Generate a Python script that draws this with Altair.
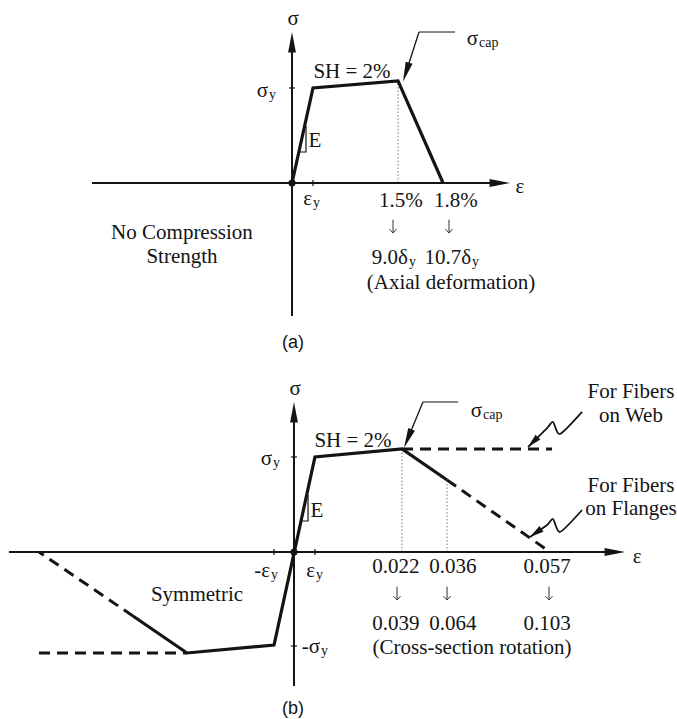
import math
import altair as alt
import pandas as pd

# ----------------------------------------------------------------------------
# Schematic units: strain axis in "schematic" units (cap strain = 1.0),
# stress axis in units of sigma_y.
# ----------------------------------------------------------------------------
W = 677
HA, HB = 360, 359

# ---------------- panel (a) ----------------
A_XDOM = [-2.755, 3.632]
A_YDOM = [-1.863, 1.926]
A_CURVE_X = [0.0, 0.198, 1.0, 1.425]
A_CURVE_Y = [0.0, 1.0, 1.074, 0.0]
A_EPS_AXIS = [-1.887, 2.057]
A_SIG_AXIS = [-1.40, 1.589]
A_TICK_EPS = [0.198]
A_TICK_SIG = [1.0]
A_DOT_X = [1.0]
A_DOT_TOP = [1.074]
A_CAP_LEADER_X = [1.538, 1.198, 1.047]
A_CAP_LEADER_Y = [1.589, 1.589, 1.065]
A_EMARK_X = [0.065, 0.132, 0.132]
A_EMARK_Y = [0.326, 0.326, 0.60]
A_DOWN_X = [0.953, 1.481]
A_DOWN_Y = [-0.526, -0.526]
A_TEXT = ["σ", "ε", "SH = 2%", "E", "1.5%", "1.8%", "(Axial deformation)",
          "No Compression", "Strength"]
A_TEXT_X = [0.01, 2.151, 0.566, 0.217, 1.028, 1.547, 1.50, -1.038, -1.038]
A_TEXT_Y = [1.663, -0.105, 1.105, 0.379, -0.253, -0.253, -1.116, -0.589, -0.842]
A_MAIN = ["σ", "σ", "ε", "9.0δ", "10.7δ"]
A_MAIN_X = [-0.226, 1.755, 0.189, 1.094, 1.689]
A_MAIN_Y = [0.905, 1.453, -0.232, -0.853, -0.853]
A_SUB = ["y", "cap", "y", "y", "y"]
A_SUB_X = [-0.217, 1.764, 0.198, 1.104, 1.698]
A_SUB_Y = [0.884, 1.432, -0.253, -0.874, -0.874]
A_PANEL = ["(a)"]
A_PANEL_X = [0.01]
A_PANEL_Y = [-1.737]

# ---------------- panel (b) ----------------
B_XDOM = [-2.722, 3.546]
B_YDOM = [-1.758, 2.021]
B_SOLID_X = [-1.491, -0.991, -0.185, 0.194, 1.0, 1.417]
B_SOLID_Y = [-0.674, -1.063, -0.98, 1.0, 1.084, 0.758]
B_WEB_X = [1.0, 2.389]
B_WEB_Y = [1.084, 1.084]
B_FLANGE_X = [1.417, 2.37]
B_FLANGE_Y = [0.758, 0.0]
B_COMPH_X = [-2.361, -0.991]
B_COMPH_Y = [-1.063, -1.063]
B_COMPD_X = [-1.491, -2.361]
B_COMPD_Y = [-0.674, 0.0]
B_EPS_AXIS = [-2.639, 3.065]
B_SIG_AXIS = [-1.41, 1.579]
B_TICK_EPS = [-0.185, 0.194]
B_TICK_SIG = [1.0, -0.99]
B_DOT_X = [1.0, 1.417]
B_DOT_TOP = [1.084, 0.758]
B_CAP_LEADER_X = [1.52, 1.194, 1.018]
B_CAP_LEADER_Y = [1.579, 1.579, 1.095]
B_WEB_SQ_X = [2.667, 2.463, 2.398, 2.343, 2.167]
B_WEB_SQ_Y = [1.474, 1.242, 1.368, 1.305, 1.105]
B_FL_SQ_X = [2.667, 2.463, 2.398, 2.343, 2.185]
B_FL_SQ_Y = [0.442, 0.211, 0.347, 0.284, 0.158]
B_EMARK_X = [0.063, 0.13, 0.13]
B_EMARK_Y = [0.326, 0.326, 0.60]
B_DOWN_X = [0.954, 1.417, 2.361]
B_DOWN_Y = [-0.505, -0.505, -0.505]
B_TEXT = ["σ", "ε", "SH = 2%", "E", "Symmetric",
          "0.022", "0.036", "0.057", "0.039", "0.064", "0.103",
          "(Cross-section rotation)",
          "For Fibers", "on Web", "For Fibers", "on Flanges"]
B_TEXT_X = [0.01, 3.176, 0.546, 0.213, -0.898,
            0.944, 1.472, 2.343, 0.944, 1.472, 2.343,
            1.648,
            3.12, 3.12, 3.12, 3.12]
B_TEXT_Y = [1.653, -0.116, 1.105, 0.368, -0.516,
            -0.221, -0.221, -0.221, -0.821, -0.821, -0.821,
            -1.074,
            1.621, 1.368, 0.632, 0.389]
B_MAIN = ["σ", "σ", "-ε", "ε", "-σ"]
B_MAIN_X = [-0.204, 1.741, -0.222, 0.194, 0.241]
B_MAIN_Y = [0.916, 1.421, -0.263, -0.263, -1.063]
B_SUB = ["y", "cap", "y", "y", "y"]
B_SUB_X = [-0.195, 1.75, -0.213, 0.204, 0.25]
B_SUB_Y = [0.895, 1.40, -0.284, -0.284, -1.084]
B_PANEL = ["(b)"]
B_PANEL_X = [-0.01]
B_PANEL_Y = [-1.705]

# ---------------- styles ----------------
INK = "#141414"
SERIF = "Liberation Serif"
SANS = "Liberation Sans"
HEAD = "M0,0L-2,-0.38L-2,0.38Z"          # arrow head, tip at the anchor point
LHEAD = "M0,0L-2,-0.5L-2,0.5Z"           # wider head for the leaders
DOWN = "M-1,-1.1L0,0L1,-1.1M0,0L0,-3.8"  # open down arrow, tip at anchor


def seg_df(segs):
    rows = []
    for g, (xs, ys) in enumerate(segs):
        for i, (x, y) in enumerate(zip(xs, ys)):
            rows.append({"x": x, "y": y, "g": g, "i": i})
    return pd.DataFrame(rows)


def heading(x0, y0, x1, y1, ux, uy):
    return math.degrees(math.atan2(-(y1 - y0) * uy, (x1 - x0) * ux)) % 360


def build_panel(P, width, height):
    ux = width / (P["xdom"][1] - P["xdom"][0])
    uy = height / (P["ydom"][1] - P["ydom"][0])
    X = alt.X("x:Q", scale=alt.Scale(domain=P["xdom"], nice=False, zero=False), axis=None)
    Y = alt.Y("y:Q", scale=alt.Scale(domain=P["ydom"], nice=False, zero=False), axis=None)

    def lines(segs, **style):
        return alt.Chart(seg_df(segs)).mark_line(**style).encode(
            x=X, y=Y, detail="g:N", order="i:Q")

    def texts(t, xs, ys, **style):
        df = pd.DataFrame({"x": xs, "y": ys, "t": t})
        return alt.Chart(df).mark_text(**style).encode(x=X, y=Y, text="t:N")

    def heads(xs, ys, angs, size, shape):
        df = pd.DataFrame({"x": xs, "y": ys, "a": angs})
        return alt.Chart(df).mark_point(
            shape=shape, filled=True, size=size, opacity=1, color=INK, strokeWidth=0
        ).encode(x=X, y=Y, angle=alt.Angle("a:Q", scale=None))

    ex0, ex1 = P["eps_axis"]
    sy0, sy1 = P["sig_axis"]
    axis_segs = [([ex0, ex1 - 12 / ux], [0, 0]), ([0, 0], [sy0, sy1 - 12 / uy])]
    tick_segs = [([t, t], [-3 / uy, 3 / uy]) for t in P["tick_eps"]] + \
                [([-3 / ux, 3 / ux], [t, t]) for t in P["tick_sig"]]
    dot_segs = [([x, x], [0, top]) for x, top in zip(P["dot_x"], P["dot_top"])]

    lx, ly = P["leader_x"], P["leader_y"]
    lang = heading(lx[-2], ly[-2], lx[-1], ly[-1], ux, uy)
    # stop the leader line a little before its tip so the head stays sharp
    ltrim = 10.0
    ldx = math.cos(math.radians(lang)) * ltrim / ux
    ldy = -math.sin(math.radians(lang)) * ltrim / uy

    layers = [
        lines(dot_segs, color="#7a7a7a", strokeWidth=1, strokeDash=[1.5, 2]),
        lines(axis_segs, color=INK, strokeWidth=2),
        lines(tick_segs, color=INK, strokeWidth=1.2),
        lines([(P["emark_x"], P["emark_y"])], color=INK, strokeWidth=1.2),
        lines([(lx[:2], ly[:2])], color=INK, strokeWidth=1),
        lines([([lx[1], lx[2] - ldx], [ly[1], ly[2] - ldy])], color=INK, strokeWidth=1.3),
    ]
    if P.get("dashed"):
        layers.append(lines(P["dashed"], color=INK, strokeWidth=3, strokeDash=[11, 7]))
    if P.get("squiggles"):
        layers.append(lines(P["squiggles"], color=INK, strokeWidth=1.8,
                            interpolate="cardinal", tension=0.3))
    layers.append(lines(P["solid"], color=INK, strokeWidth=3.2, strokeJoin="miter"))

    # origin dot
    layers.append(alt.Chart(pd.DataFrame({"x": [0.0], "y": [0.0]})).mark_circle(
        size=50, opacity=1, color=INK).encode(x=X, y=Y))

    # axis arrow heads
    layers.append(heads([ex1, 0.0], [0.0, sy1], [0, 270], 420, HEAD))
    # leader arrow head
    layers.append(heads([lx[-1]], [ly[-1]], [lang], 400, "M0,0L-2,-0.36L-2,0.36Z"))
    if P.get("squiggles"):
        sx, sy_, sa = [], [], []
        for xs, ys in P["squiggles"]:
            sx.append(xs[-1]); sy_.append(ys[-1])
            sa.append(heading(xs[-2], ys[-2], xs[-1], ys[-1], ux, uy))
        layers.append(heads(sx, sy_, sa, 196, LHEAD))

    # small down arrows
    layers.append(alt.Chart(pd.DataFrame({"x": P["down_x"], "y": P["down_y"]})).mark_point(
        shape=DOWN, filled=False, size=49, opacity=1, color="#333333", strokeWidth=1
    ).encode(x=X, y=Y))

    # texts
    layers.append(texts(P["text"], P["text_x"], P["text_y"], font=SERIF, fontSize=21,
                        align="center", baseline="alphabetic", color=INK))
    layers.append(texts(P["main"], P["main_x"], P["main_y"], font=SERIF, fontSize=21,
                        align="right", baseline="alphabetic", color=INK))
    layers.append(texts(P["sub"], P["sub_x"], P["sub_y"], font=SERIF, fontSize=14,
                        align="left", baseline="alphabetic", color=INK))
    layers.append(texts(P["panel"], P["panel_x"], P["panel_y"], font=SANS, fontSize=18,
                        align="center", baseline="alphabetic", color=INK))

    return alt.layer(*layers).properties(width=width, height=height)


PA = dict(
    xdom=A_XDOM, ydom=A_YDOM,
    solid=[(A_CURVE_X, A_CURVE_Y)],
    eps_axis=A_EPS_AXIS, sig_axis=A_SIG_AXIS,
    tick_eps=A_TICK_EPS, tick_sig=A_TICK_SIG,
    dot_x=A_DOT_X, dot_top=A_DOT_TOP,
    leader_x=A_CAP_LEADER_X, leader_y=A_CAP_LEADER_Y,
    emark_x=A_EMARK_X, emark_y=A_EMARK_Y,
    down_x=A_DOWN_X, down_y=A_DOWN_Y,
    text=A_TEXT, text_x=A_TEXT_X, text_y=A_TEXT_Y,
    main=A_MAIN, main_x=A_MAIN_X, main_y=A_MAIN_Y,
    sub=A_SUB, sub_x=A_SUB_X, sub_y=A_SUB_Y,
    panel=A_PANEL, panel_x=A_PANEL_X, panel_y=A_PANEL_Y,
)

PB = dict(
    xdom=B_XDOM, ydom=B_YDOM,
    solid=[(B_SOLID_X, B_SOLID_Y)],
    dashed=[(B_WEB_X, B_WEB_Y), (B_FLANGE_X, B_FLANGE_Y),
            (B_COMPH_X, B_COMPH_Y), (B_COMPD_X, B_COMPD_Y)],
    squiggles=[(B_WEB_SQ_X, B_WEB_SQ_Y), (B_FL_SQ_X, B_FL_SQ_Y)],
    eps_axis=B_EPS_AXIS, sig_axis=B_SIG_AXIS,
    tick_eps=B_TICK_EPS, tick_sig=B_TICK_SIG,
    dot_x=B_DOT_X, dot_top=B_DOT_TOP,
    leader_x=B_CAP_LEADER_X, leader_y=B_CAP_LEADER_Y,
    emark_x=B_EMARK_X, emark_y=B_EMARK_Y,
    down_x=B_DOWN_X, down_y=B_DOWN_Y,
    text=B_TEXT, text_x=B_TEXT_X, text_y=B_TEXT_Y,
    main=B_MAIN, main_x=B_MAIN_X, main_y=B_MAIN_Y,
    sub=B_SUB, sub_x=B_SUB_X, sub_y=B_SUB_Y,
    panel=B_PANEL, panel_x=B_PANEL_X, panel_y=B_PANEL_Y,
)

chart = alt.vconcat(build_panel(PA, W, HA), build_panel(PB, W, HB), spacing=0).properties(
    padding=0, background="white"
).configure_view(stroke=None)

chart.save("out.html", embed_options={"renderer": "svg", "actions": False})
